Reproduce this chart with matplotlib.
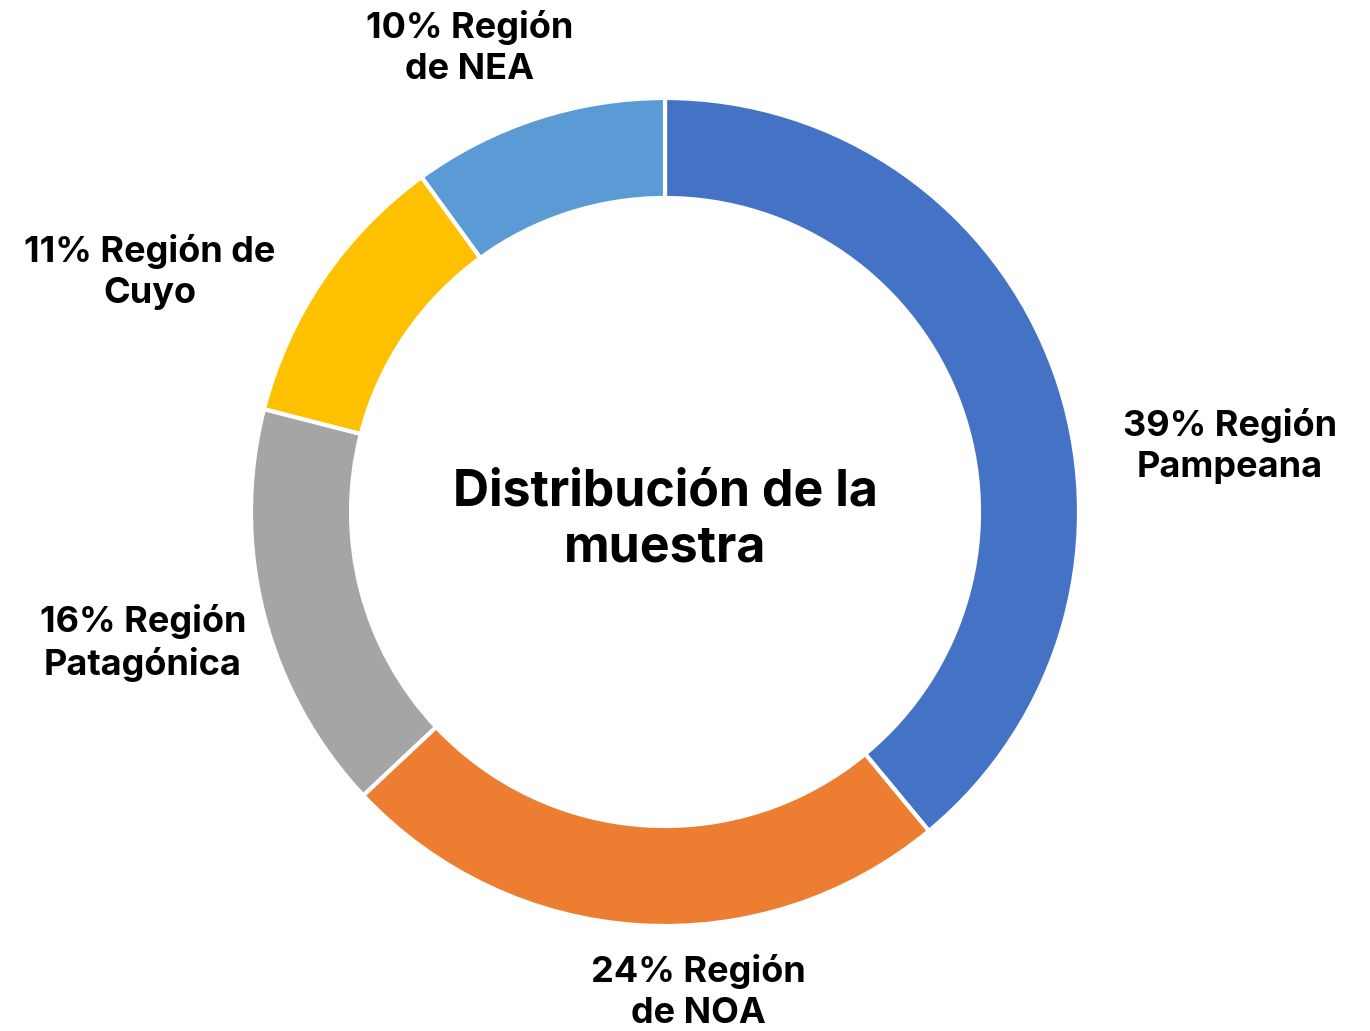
import matplotlib.pyplot as plt

# data
regions = ['Región Pampeana', 'Región de NOA', 'Región Patagónica', 'Región de Cuyo', 'Región de NEA']
shares = [39, 24, 16, 11, 10]
label_text = ['39% Región\nPampeana', '24% Región\nde NOA', '16% Región\nPatagónica',
              '11% Región de\nCuyo', '10% Región\nde NEA']
colors = ['#4472C4', '#ED7D31', '#A5A5A5', '#FFC000', '#5B9BD5']

# label placement in pixels (x, y from top)
label_pos = [(1230, 446), (698, 992), (143, 643), (150, 272), (470, 48)]

W, H = 1370, 1031
fig = plt.figure(figsize=(W / 100, H / 100), dpi=100)
ax = fig.add_axes([0, 0, 1, 1])

cx, cy, r_out = 665, H - 512, 414
ax.pie(shares, colors=colors, startangle=90, counterclock=False,
       center=(cx, cy), radius=r_out,
       wedgeprops=dict(width=100, edgecolor='white', linewidth=3))
ax.set_xlim(0, W)
ax.set_ylim(0, H)
ax.set_aspect('equal')
ax.axis('off')

font = ['Inter', 'DejaVu Sans']
for txt, (x, y) in zip(label_text, label_pos):
    ax.text(x, H - y, txt, ha='center', va='center', fontsize=26,
            fontweight='bold', family=font, linespacing=1.32)

ax.text(cx, H - 520, 'Distribución de la\nmuestra', ha='center', va='center',
        fontsize=36, fontweight='bold', family=font, linespacing=1.25)

fig.savefig('out.png', dpi=100)
